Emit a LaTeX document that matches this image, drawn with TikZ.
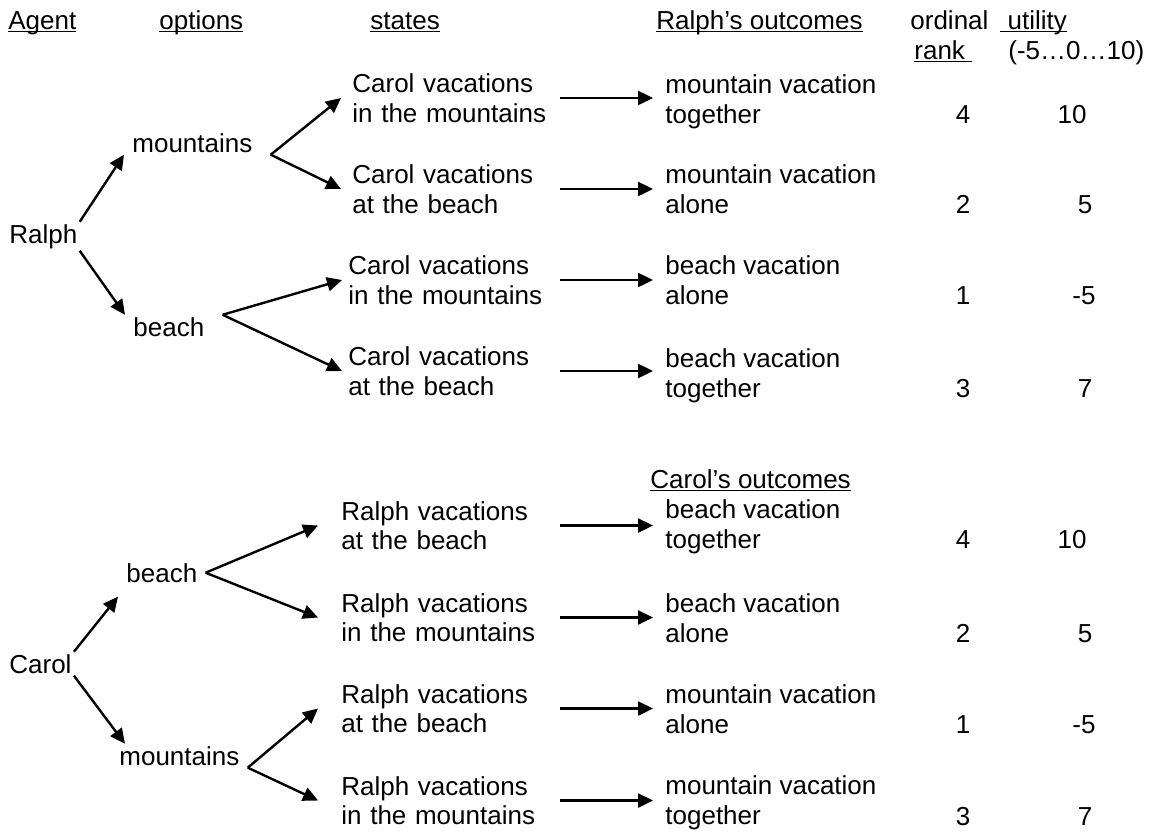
\documentclass[tikz,border=0pt]{standalone}
\usepackage{fontspec}
\setmainfont{Liberation Sans}
\usetikzlibrary{arrows.meta}

\newcommand{\ulinetext}[1]{\setbox0=\hbox{#1}\rlap{\rule[-0.13em]{\wd0}{0.07em}}#1}

\begin{document}
\begin{tikzpicture}[x=0.5pt,y=-0.5pt,
  every node/.style={font=\fontsize{13pt}{14.75pt}\selectfont},
  head/.style={anchor=base west,inner sep=0pt},
  agent/.style={anchor=base west,inner xsep=1pt,inner ysep=1pt},
  option/.style={anchor=base west,inner xsep=4pt,inner ysep=1pt},
  state/.style 2 args={anchor=west,align=left,inner ysep=0pt,inner xsep=#1,text width=#2},
  outcome/.style={anchor=west,align=left,inner xsep=6pt,inner ysep=0pt},
  num/.style={anchor=base,inner sep=0pt},
  arr/.style={-{Triangle[length=7.5pt,width=7pt]},line width=1.2pt}]
\useasboundingbox (0,0) rectangle (1154,831);

% headings
\node[head] (hagent) at (8,29) {\ulinetext{Agent}};
\node[head] (hopt) at (159,29) {\ulinetext{options}};
\node[head] (hstate) at (370,29) {\ulinetext{states}};
\node[head] (hrout) at (656,29) {\ulinetext{Ralph’s outcomes}};
\node[head] (hord) at (910,29) {ordinal};
\node[head] (hutil) at (1000,29) {\ulinetext{\ utility}};
\node[head] (hrank) at (914,59) {\ulinetext{rank\ }};
\node[head] (hscale) at (1008,59) {(-5…0…10)};
\node[head] (hcout) at (650,488) {\ulinetext{Carol’s outcomes}};

% Ralph
\node[agent] (ralph) at (7,243) {Ralph};
\node[option] (rm) at (124,152) {mountains};
\node[option] (rb) at (125,336) {beach};
\node[state={5.5pt}{98pt}] (rs1) at (341,98) {Carol vacations\\in the mountains};
\node[state={5.5pt}{98pt}] (rs2) at (341,189) {Carol vacations\\at the beach};
\node[state={3pt}{102.5pt}] (rs3) at (342,280) {Carol vacations\\in the mountains};
\node[state={3pt}{102.5pt}] (rs4) at (342,371) {Carol vacations\\at the beach};
\node[outcome] (ro1) at (653,101.6) {mountain vacation\\together};
\node[outcome] (ro2) at (653,189) {mountain vacation\\alone};
\node[outcome] (ro3) at (653,280) {beach vacation\\alone};
\node[outcome] (ro4) at (653,375.6) {beach vacation\\together};
\node[num] (rr1) at (963,123) {4};
\node[num] (ru1) at (1072,123) {10};
\node[num] (rr2) at (963,213) {2};
\node[num] (ru2) at (1085,213) {5};
\node[num] (rr3) at (963,304) {1};
\node[num] (ru3) at (1084,304) {-5};
\node[num] (rr4) at (963,397) {3};
\node[num] (ru4) at (1085,397) {7};

\draw[arr] (ralph.north east) -- (rm.south west);
\draw[arr] (ralph.south east) -- (rb.north west);
\draw[arr] ([xshift=5pt]rm.south east) -- (rs1.west);
\draw[arr] ([xshift=5pt]rm.south east) -- (rs2.west);
\draw[arr] ([xshift=5pt]rb.north east) -- (rs3.west);
\draw[arr] ([xshift=5pt]rb.north east) -- (rs4.west);
\draw[arr] (rs1.east) -- (rs1.east -| ro1.west);
\draw[arr] (rs2.east) -- (rs2.east -| ro2.west);
\draw[arr] (rs3.east) -- (rs3.east -| ro3.west);
\draw[arr] (rs4.east) -- (rs4.east -| ro4.west);

% Carol
\node[agent] (carol) at (7,673) {Carol};
\node[option] (cb) at (118,582) {beach};
\node[option] (cm) at (111,765) {mountains};
\node[state={11.5pt}{97.5pt}] (cs1) at (318,525.5) {Ralph vacations\\at the beach};
\node[state={11.5pt}{97.5pt}] (cs2) at (318,617.5) {Ralph vacations\\in the mountains};
\node[state={11.5pt}{97.5pt}] (cs3) at (318,708.5) {Ralph vacations\\at the beach};
\node[state={11.5pt}{97.5pt}] (cs4) at (318,800.5) {Ralph vacations\\in the mountains};
\node[outcome] (co1) at (653,526.7) {beach vacation\\together};
\node[outcome] (co2) at (653,618) {beach vacation\\alone};
\node[outcome] (co3) at (653,709) {mountain vacation\\alone};
\node[outcome] (co4) at (653,803) {mountain vacation\\together};
\node[num] (cr1) at (963,548) {4};
\node[num] (cu1) at (1072,548) {10};
\node[num] (cr2) at (963,642) {2};
\node[num] (cu2) at (1085,642) {5};
\node[num] (cr3) at (963,733) {1};
\node[num] (cu3) at (1084,733) {-5};
\node[num] (cr4) at (963,825) {3};
\node[num] (cu4) at (1085,825) {7};

\draw[arr] (carol.north east) -- ([yshift=-6pt]cb.south west);
\draw[arr] (carol.south east) -- ([xshift=7pt]cm.north west);
\draw[arr] (cb.east) -- (cs1.west);
\draw[arr] (cb.east) -- (cs2.west);
\draw[arr] (cm.south east) -- (cs3.west);
\draw[arr] (cm.south east) -- (cs4.west);
\draw[arr] (cs1.east) -- (cs1.east -| co1.west);
\draw[arr] (cs2.east) -- (cs2.east -| co2.west);
\draw[arr] (cs3.east) -- (cs3.east -| co3.west);
\draw[arr] (cs4.east) -- (cs4.east -| co4.west);
\end{tikzpicture}
\end{document}
